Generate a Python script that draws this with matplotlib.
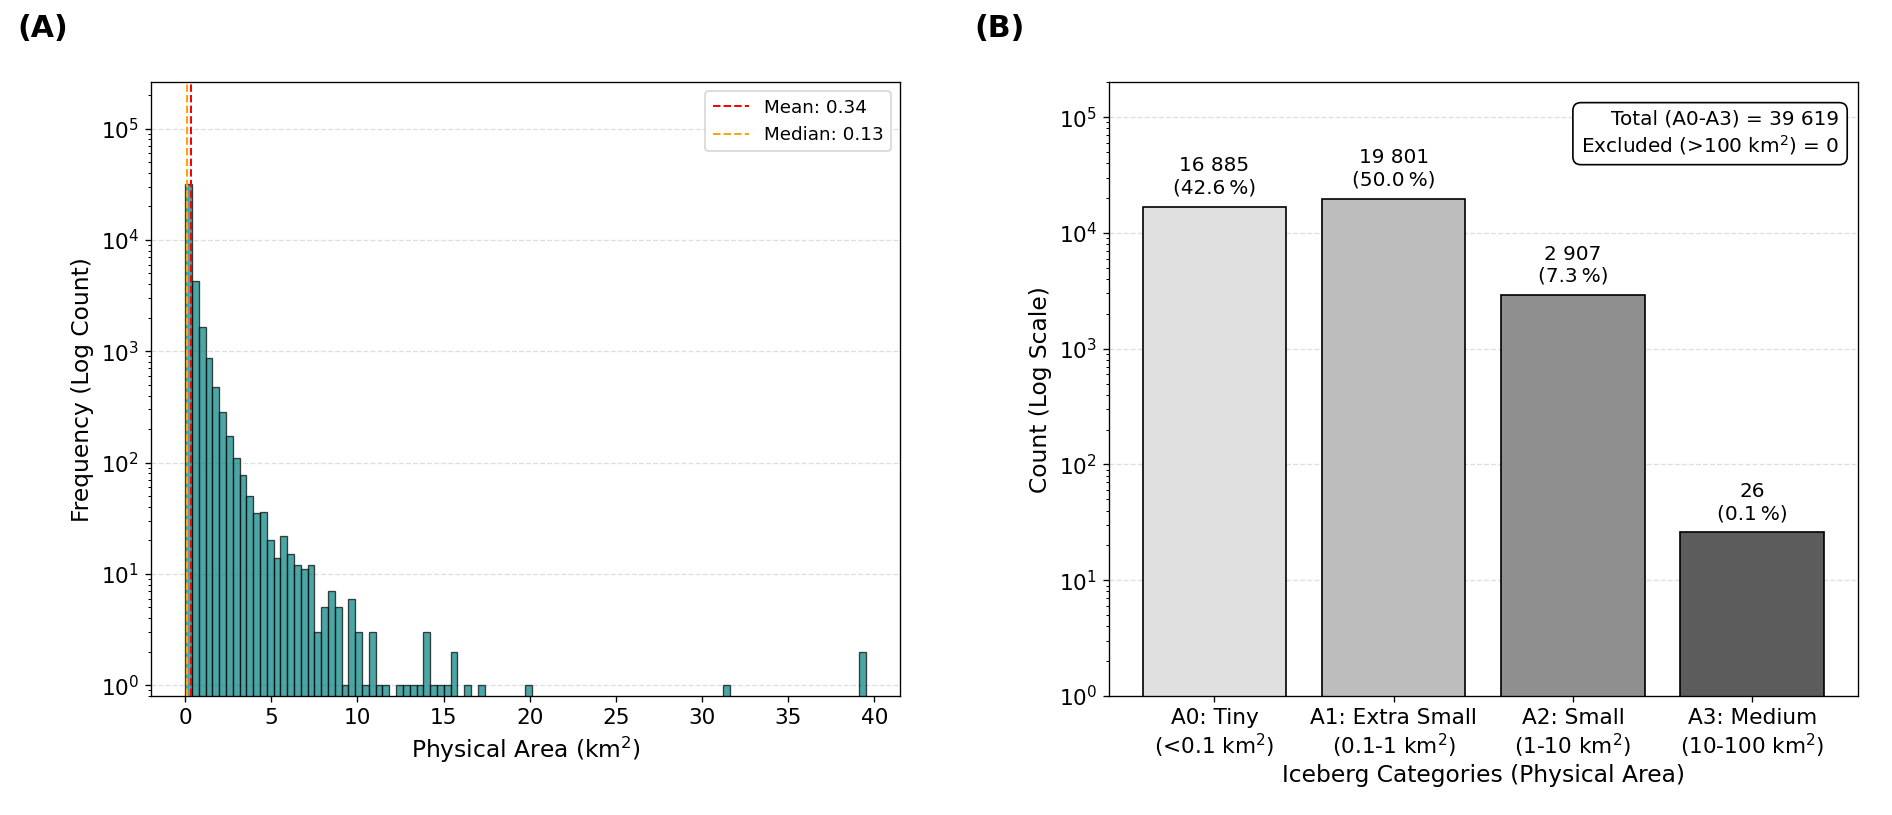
import numpy as np
import matplotlib
matplotlib.use("Agg")
import matplotlib.pyplot as plt

# panel A: histogram of physical area (100 bins over 0 - 39.5 km2)
bin_lo, bin_hi, n_bins = 0.0, 39.5, 100
hist_counts = np.zeros(n_bins)
hist_nonzero = {
    0: 31600, 1: 4300, 2: 1660, 3: 860, 4: 480, 5: 282, 6: 174, 7: 110,
    8: 78, 9: 50, 10: 35, 11: 36, 12: 20, 13: 14, 14: 22, 15: 15, 16: 12,
    17: 11, 18: 12, 19: 3, 20: 5, 21: 7, 22: 5, 23: 1, 24: 6, 25: 3, 26: 1,
    27: 3, 28: 1, 29: 1, 31: 1, 32: 1, 33: 1, 34: 1, 35: 3, 36: 1, 37: 1,
    38: 1, 39: 2, 41: 1, 43: 1, 50: 1, 79: 1, 99: 2,
}
for k, v in hist_nonzero.items():
    hist_counts[k] = v
mean_area = 0.34
median_area = 0.13

# panel B: categories
categories = ["A0: Tiny\n(<0.1 km$^2$)", "A1: Extra Small\n(0.1-1 km$^2$)",
              "A2: Small\n(1-10 km$^2$)", "A3: Medium\n(10-100 km$^2$)"]
cat_counts = [16885, 19801, 2907, 26]
cat_colors = ["#e0e0e0", "#bdbdbd", "#8f8f8f", "#5c5c5c"]
excluded = 0

plt.rcParams["font.size"] = 13

fig = plt.figure(figsize=(15.7667, 6.7917), dpi=120)
ax1 = fig.add_axes([0.0798, 0.146, 0.396, 0.753])
ax2 = fig.add_axes([0.586, 0.146, 0.396, 0.753])

edges = np.linspace(bin_lo, bin_hi, n_bins + 1)
ax1.bar(edges[:-1], hist_counts, width=np.diff(edges), align="edge",
        color="teal", alpha=0.7, edgecolor="black", linewidth=0.8, zorder=2)
ax1.axvline(mean_area, color="red", linestyle="--", linewidth=1.2,
            label=f"Mean: {mean_area:.2f}", zorder=3)
ax1.axvline(median_area, color="orange", linestyle="--", linewidth=1.2,
            label=f"Median: {median_area:.2f}", zorder=3)
ax1.set_yscale("log")
ax1.set_ylim(0.8, 2.6e5)
ax1.set_xlim(-1.98, 41.5)
ax1.set_xlabel("Physical Area (km$^2$)", fontsize=14)
ax1.set_ylabel("Frequency (Log Count)", fontsize=14)
ax1.grid(axis="y", linestyle="--", alpha=0.4, zorder=0)
ax1.legend(loc="upper right", fontsize=11)

total = sum(cat_counts)
x = np.arange(len(categories))
ax2.bar(x, cat_counts, color=cat_colors, edgecolor="black", linewidth=1, zorder=2)
for xi, c in zip(x, cat_counts):
    label = f"{c:,}".replace(",", " ")
    ax2.text(xi, c * 1.2, f"{label}\n({100 * c / total:.1f}\u2009%)",
             ha="center", va="bottom", fontsize=12)
ax2.set_yscale("log")
ax2.set_ylim(1, 2e5)
ax2.set_xticks(x)
ax2.set_xticklabels(categories, fontsize=13)
ax2.set_xlabel("Iceberg Categories (Physical Area)", fontsize=14, labelpad=2)
ax2.set_ylabel("Count (Log Scale)", fontsize=14)
ax2.grid(axis="y", linestyle="--", alpha=0.4, zorder=0)
total_str = f"{total:,}".replace(",", " ")
ax2.text(0.975, 0.955,
         f"Total (A0-A3) = {total_str}\nExcluded (>100 km$^2$) = {excluded}",
         transform=ax2.transAxes, ha="right", va="top", fontsize=12,
         bbox=dict(boxstyle="round,pad=0.4", facecolor="white", edgecolor="black"))

fig.text(0.009, 0.955, "(A)", fontsize=18, fontweight="bold")
fig.text(0.515, 0.955, "(B)", fontsize=18, fontweight="bold")

fig.savefig("out.png", dpi=120)
